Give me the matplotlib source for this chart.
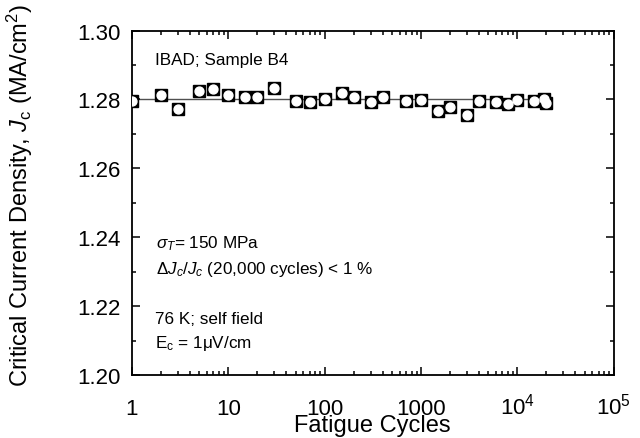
#!/usr/bin/env python3
"""Critical current density vs fatigue cycles (IBAD sample B4)."""
import matplotlib
matplotlib.use("Agg")
import matplotlib.pyplot as plt
from matplotlib.ticker import FixedLocator, LogLocator, MultipleLocator, NullFormatter

plt.rcParams['font.family'] = ['Liberation Sans', 'DejaVu Sans']
plt.rcParams['mathtext.fontset'] = 'custom'
plt.rcParams['mathtext.rm'] = 'Liberation Sans'
plt.rcParams['mathtext.it'] = 'Liberation Sans:italic'
plt.rcParams['mathtext.bf'] = 'Liberation Sans:bold'

# data
cycles = [1, 2, 3, 5, 7, 10, 15, 20, 30, 50, 70, 100, 150, 200, 300, 400,
          700, 1000, 1500, 2000, 3000, 4000, 6000, 8000, 10000, 15000,
          19000, 20000]
jc = [1.2797, 1.2813, 1.2772, 1.2826, 1.2831, 1.2813, 1.2806, 1.2808,
      1.2833, 1.2795, 1.2792, 1.2801, 1.2819, 1.2806, 1.2794, 1.2808,
      1.2795, 1.2799, 1.2767, 1.2779, 1.2756, 1.2797, 1.2792, 1.2787,
      1.2799, 1.2797, 1.2802, 1.2790]
fit_x = [1, 20000]
fit_y = [1.2800, 1.2800]

xtick_vals = [1, 10, 100, 1000, 1e4, 1e5]
xtick_labels = ['1', '10', '100', '1000', r'$\mathregular{10^4}$', r'$\mathregular{10^5}$']
ytick_vals = [1.20, 1.22, 1.24, 1.26, 1.28, 1.30]

fig = plt.figure(figsize=(6.4, 4.39), dpi=100)
ax = fig.add_axes([0.206, 0.1435, 0.753, 0.7845])

ax.plot(fit_x, fit_y, color='#505050', lw=1.0, zorder=1)
ax.plot(cycles, jc, 's', ms=8.2, color='black', zorder=2)
ax.plot(cycles, jc, 'o', ms=6.4, color='white', mec='white', zorder=3)

ax.set_xscale('log')
ax.set_xlim(1, 1e5)
ax.set_ylim(1.20, 1.30)

ax.xaxis.set_major_locator(FixedLocator(xtick_vals))
ax.set_xticklabels(xtick_labels)
ax.xaxis.set_minor_locator(LogLocator(base=10, subs=range(2, 10), numticks=20))
ax.xaxis.set_minor_formatter(NullFormatter())
ax.yaxis.set_major_locator(FixedLocator(ytick_vals))
ax.set_yticklabels(['%.2f' % v for v in ytick_vals])
ax.yaxis.set_minor_locator(MultipleLocator(0.01))

ax.tick_params(which='both', direction='in', top=True, right=True, width=1.1)
ax.tick_params(which='major', length=6)
ax.tick_params(which='minor', length=3)
ax.tick_params(axis='y', labelsize=16, pad=8)
ax.tick_params(axis='x', labelsize=16, pad=28)
for lab in ax.get_xticklabels():
    lab.set_verticalalignment('baseline')
for sp in ax.spines.values():
    sp.set_linewidth(1.3)

ax.set_xlabel('Fatigue Cycles', fontsize=17, va='baseline')
ax.xaxis.set_label_coords(0.5, -0.1626)
ax.set_ylabel(r'Critical Current Density, $J_{\mathregular{c}}$ (MA/cm$^{\mathregular{2}}$)',
              fontsize=17, va='baseline')
ax.yaxis.set_label_coords(-0.215, 0.525)

ax.text(0.048, 0.915, 'IBAD; Sample B4', transform=ax.transAxes,
        fontsize=12.3, va='center')
ax.text(0.051, 0.385, r'$\sigma_T$= 150 MPa', transform=ax.transAxes,
        fontsize=12.3, va='center')
ax.text(0.051, 0.308, r'$\mathregular{\Delta}J_c/J_c$ (20,000 cycles) < 1 %',
        transform=ax.transAxes, fontsize=12.3, va='center')
ax.text(0.048, 0.163, '76 K; self field', transform=ax.transAxes,
        fontsize=12.3, va='center')
ax.text(0.048, 0.095, r'E$_{\mathregular{c}}$ = 1$\mathregular{\mu}$V/cm',
        transform=ax.transAxes, fontsize=12.3, va='center')

fig.savefig('out.png', dpi=100)
